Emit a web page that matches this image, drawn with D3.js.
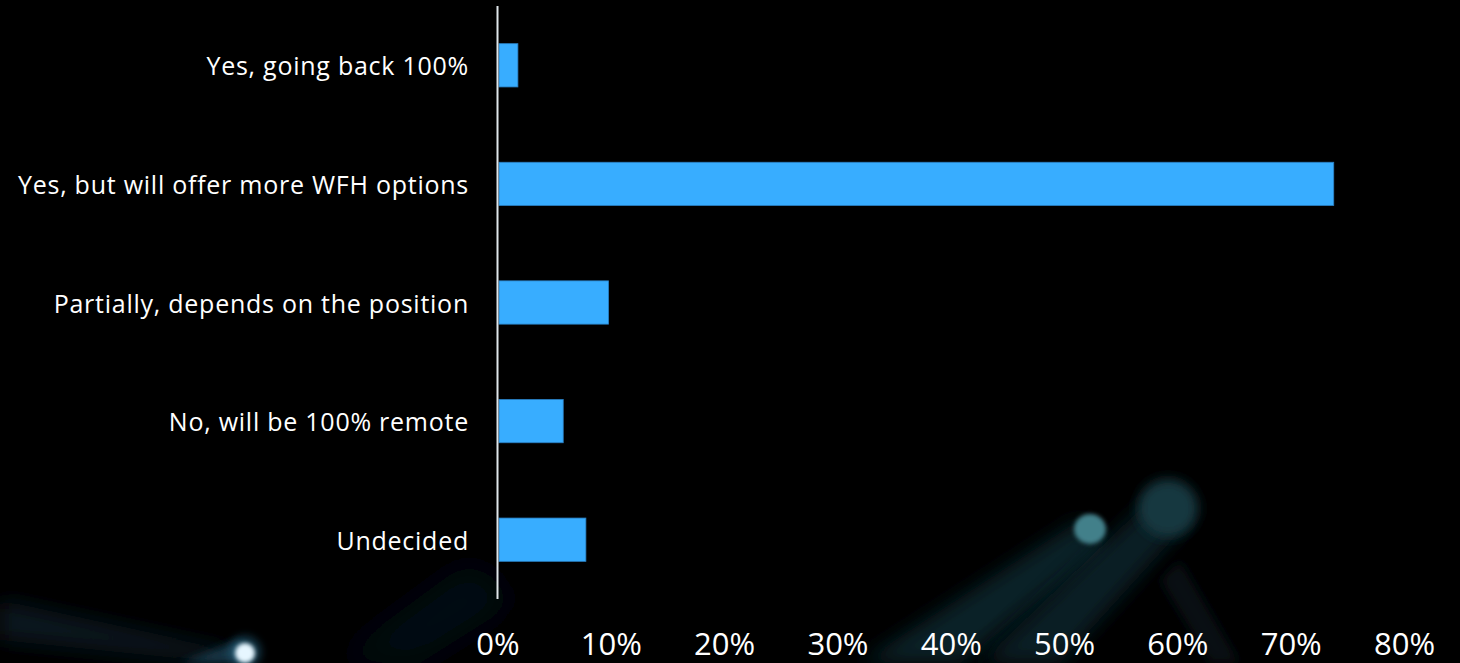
<!DOCTYPE html>
<html>
<head>
<meta charset="utf-8">
<script src="https://cdn.jsdelivr.net/npm/d3@7"></script>
<style>
  html, body { margin: 0; padding: 0; background: #000; overflow: hidden; }
  svg { display: block; }
</style>
</head>
<body>
<svg id="chart" width="1460" height="663"></svg>
<script>
const categories = [
  "Yes, going back 100%",
  "Yes, but will offer more WFH options",
  "Partially, depends on the position",
  "No, will be 100% remote",
  "Undecided"
];
const values = [0.018, 0.738, 0.098, 0.058, 0.078];
const tickValues = [0, 0.1, 0.2, 0.3, 0.4, 0.5, 0.6, 0.7, 0.8];

const W = 1460, H = 663;
const svg = d3.select("#chart");

// background
svg.append("rect").attr("width", W).attr("height", H).attr("fill", "#000");

const defs = svg.append("defs");
const blur = (id, s) => defs.append("filter").attr("id", id)
  .attr("x", "-50%").attr("y", "-50%").attr("width", "200%").attr("height", "200%")
  .append("feGaussianBlur").attr("stdDeviation", s);
blur("b2", 2); blur("b4", 4); blur("b6", 6); blur("b10", 10); blur("b18", 18);

const deco = svg.append("g");
// bottom-right teal streaks
deco.append("path").attr("d", "M860,663 L1080,520 L1110,545 L960,663 Z")
  .attr("fill", "#0e2a33").attr("opacity", 0.8).attr("filter", "url(#b10)");
deco.append("path").attr("d", "M980,663 L1150,500 L1190,520 L1060,663 Z")
  .attr("fill", "#0c252d").attr("opacity", 0.8).attr("filter", "url(#b10)");
deco.append("path").attr("d", "M1180,560 L1240,663 L1210,663 L1160,580 Z")
  .attr("fill", "#07151a").attr("opacity", 0.7).attr("filter", "url(#b6)");
deco.append("ellipse").attr("cx", 1168).attr("cy", 508).attr("rx", 30).attr("ry", 29)
  .attr("fill", "#17393f").attr("filter", "url(#b6)");
deco.append("ellipse").attr("cx", 1090).attr("cy", 529).attr("rx", 16).attr("ry", 15)
  .attr("fill", "#42808a").attr("filter", "url(#b2)");
// bottom-left streak and glow dot
deco.append("path").attr("d", "M0,600 L230,650 L225,663 L0,640 Z")
  .attr("fill", "#0a1e28").attr("opacity", 0.8).attr("filter", "url(#b10)");
deco.append("path").attr("d", "M180,663 L240,640 L250,663 Z")
  .attr("fill", "#163545").attr("filter", "url(#b4)");
deco.append("circle").attr("cx", 245).attr("cy", 652).attr("r", 16)
  .attr("fill", "#24607e").attr("opacity", 0.6).attr("filter", "url(#b4)");
deco.append("circle").attr("cx", 245).attr("cy", 653).attr("r", 10)
  .attr("fill", "#e6f6ff").attr("filter", "url(#b2)");
deco.append("path").attr("d", "M330,663 L470,560 L520,600 L420,663 Z")
  .attr("fill", "#060d12").attr("opacity", 0.9).attr("filter", "url(#b18)");

// scales
const x = d3.scaleLinear().domain([0, 0.8]).range([497.5, 1404]);
const y = d3.scaleBand().domain(categories).range([6, 599])
  .paddingInner(0.635).paddingOuter(0.3175);

// bars
svg.append("g").selectAll("rect").data(categories).join("rect")
  .attr("x", x(0) + 1.5)
  .attr("y", d => y(d))
  .attr("width", (d, i) => x(values[i]) - x(0) - 1.5)
  .attr("height", y.bandwidth())
  .attr("fill", "#38adff")
  .attr("stroke", "#2a7fc2")
  .attr("stroke-width", 0.8);

// vertical axis line
svg.append("line")
  .attr("x1", x(0)).attr("x2", x(0))
  .attr("y1", 6).attr("y2", 599)
  .attr("stroke", "#dfe6ea").attr("stroke-width", 2);

// category labels
svg.append("g").selectAll("text").data(categories).join("text")
  .attr("x", 469)
  .attr("y", d => y(d) + y.bandwidth() / 2)
  .attr("text-anchor", "end")
  .attr("dominant-baseline", "central")
  .attr("font-family", "'Open Sans', sans-serif")
  .attr("font-size", 25)
  .attr("letter-spacing", "0.75px")
  .attr("fill", "#ffffff")
  .text(d => d);

// x tick labels
const xAxis = d3.axisBottom(x).tickValues(tickValues).tickFormat(d3.format(".0%")).tickSize(0).tickPadding(0);
const gx = svg.append("g").attr("transform", "translate(0,633)").call(xAxis);
gx.select(".domain").remove();
gx.selectAll("text")
  .attr("dy", "0.71em")
  .attr("y", 0)
  .attr("font-family", "'Open Sans', sans-serif")
  .attr("font-size", 31)
  .attr("fill", "#ffffff");
</script>
</body>
</html>
